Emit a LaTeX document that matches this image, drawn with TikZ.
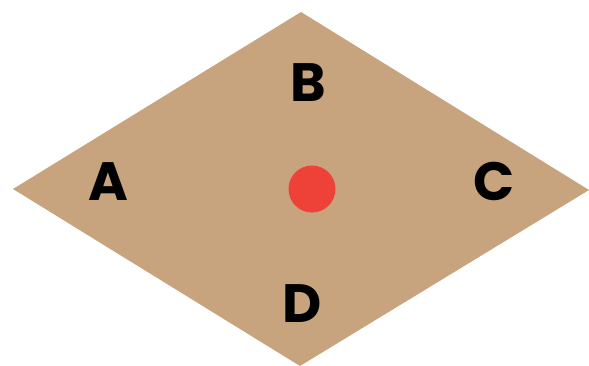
\documentclass[tikz,border=0pt]{standalone}
\usepackage{fontspec}
\setmainfont{Poppins}
\definecolor{tan}{HTML}{C8A47E}
\definecolor{dotred}{HTML}{EE4137}
\begin{document}
\begin{tikzpicture}[x=1pt,y=-1pt,
  lbl/.style={font=\fontsize{54}{54}\selectfont\bfseries, text=black, inner sep=0pt, anchor=center}]
\useasboundingbox (0,0) rectangle (589,365);
\fill[white] (0,0) rectangle (589,365);
\coordinate (L) at (13,189);
\coordinate (T) at (301,12);
\coordinate (R) at (589,190);
\coordinate (Bt) at (300,366);
\fill[tan] (L) -- (T) -- (R) -- (Bt) -- cycle;
\fill[dotred] (312,189) circle (23.5);
\node[lbl] (b) at (308,83) {B};
\node[lbl] (a) at (108,182) {A};
\node[lbl] (c) at (494,181) {C};
\node[lbl] (d) at (302,304) {D};
\end{tikzpicture}
\end{document}
